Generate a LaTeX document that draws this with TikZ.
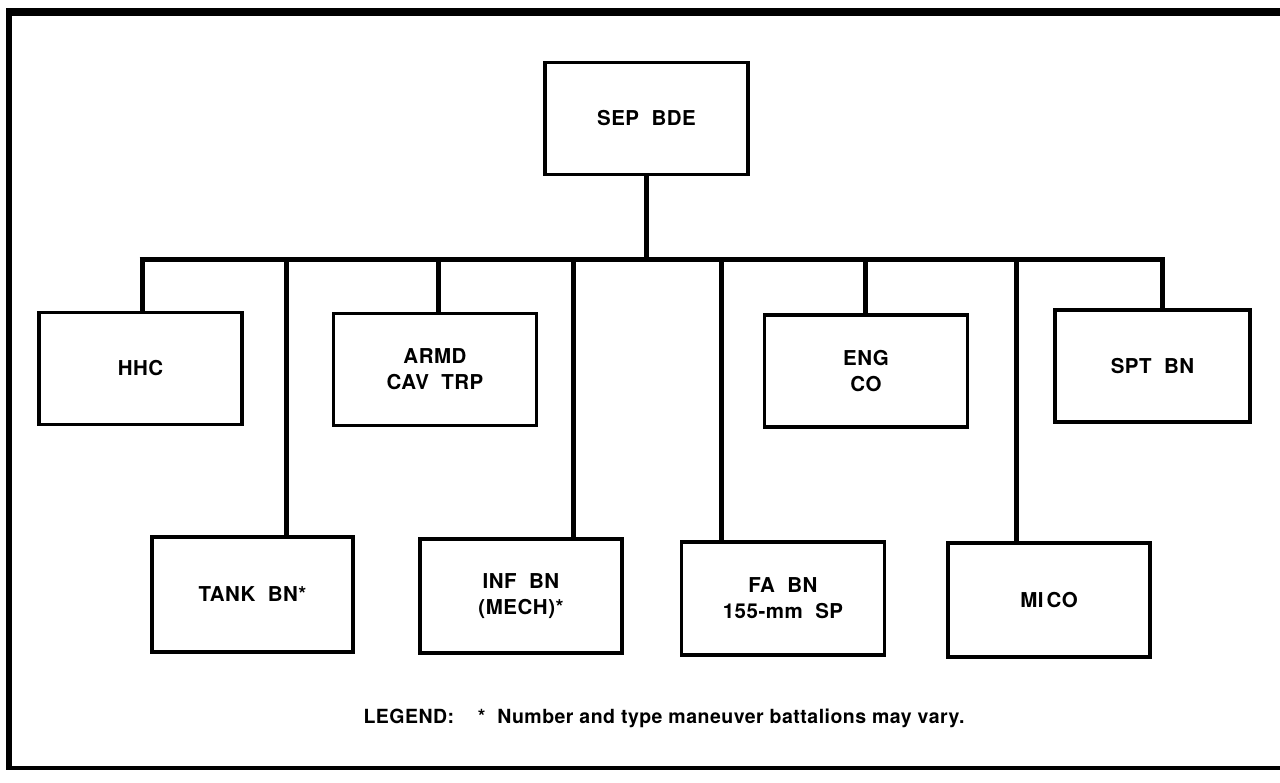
\documentclass[tikz,border=0pt]{standalone}
\usepackage{fontspec}
\setmainfont{TeX Gyre Heros}[LetterSpace=2.5]
\begin{document}
\begin{tikzpicture}[x=1pt,y=-1pt,
  unit/.style={draw, line width=3.2pt, rectangle, minimum width=203pt, minimum height=112pt,
    align=center, inner sep=0pt, font=\fontsize{20.5}{26}\selectfont\bfseries},
  link/.style={line width=5pt}]
\useasboundingbox (0,0) rectangle (1280,783);
% frame
\coordinate (ftl) at (9,12);
\coordinate (ftr) at (1280,12);
\coordinate (fbl) at (9,768);
\coordinate (fbr) at (1280,768);
\draw[line width=8pt] (ftl) ++(-3,0) -- (ftr);
\draw[line width=6pt] (ftl) -- (fbl);
\draw[line width=3.5pt] (fbl) ++(-3,0) -- (fbr);
% nodes
\node[unit] (sep)  at (646.5,118.5) {SEP\ \ BDE};
\node[unit] (hhc)  at (140.5,368.5) {HHC};
\node[unit] (armd) at (435,369.5) {ARMD\\CAV\ \ TRP};
\node[unit] (eng)  at (866,371) {ENG\\CO};
\node[unit, minimum width=195pt] (spt)  at (1152.5,366) {SPT\ \ BN};
\node[unit, minimum width=201pt, minimum height=115pt] (tank) at (252.5,594.5) {TANK\ \ BN*};
\node[unit, minimum width=202pt, minimum height=114pt] (inf)  at (521,596) {INF\ \ BN\\(MECH)*};
\node[unit, minimum height=113pt] (fa)   at (783,598.5) {FA\ \ BN\\155-mm\ \ SP};
\node[unit, minimum width=202pt, minimum height=114pt] (mi)   at (1049,600) {MI\hspace{3pt}CO};
% bus
\coordinate (bH) at (142,260);
\coordinate (bT) at (286,260);
\coordinate (bA) at (438,260);
\coordinate (bI) at (573,260);
\coordinate (bF) at (721,260);
\coordinate (bE) at (865,260);
\coordinate (bM) at (1016,260);
\coordinate (bS) at (1162,260);
\draw[link] (bH) ++(-2.5,0) -- ([xshift=2.5pt]bS);
\draw[link] (sep.south) -- (sep.south |- bH);
\draw[link] (bH) -- (bH |- hhc.north);
\draw[link] (bT) -- (bT |- tank.north);
\draw[link] (bA) -- (bA |- armd.north);
\draw[link] (bI) -- (bI |- inf.north);
\draw[link] (bF) -- (bF |- fa.north);
\draw[link] (bE) -- (bE |- eng.north);
\draw[link] (bM) -- (bM |- mi.north);
\draw[link] (bS) -- (bS |- spt.north);
% legend
\node[font=\fontsize{19.5}{24}\selectfont\bfseries, inner sep=0pt] (legend) at (664,718)
  {LEGEND:\ \ \ \ *\ \ Number and type maneuver battalions may vary.};
\end{tikzpicture}
\end{document}
